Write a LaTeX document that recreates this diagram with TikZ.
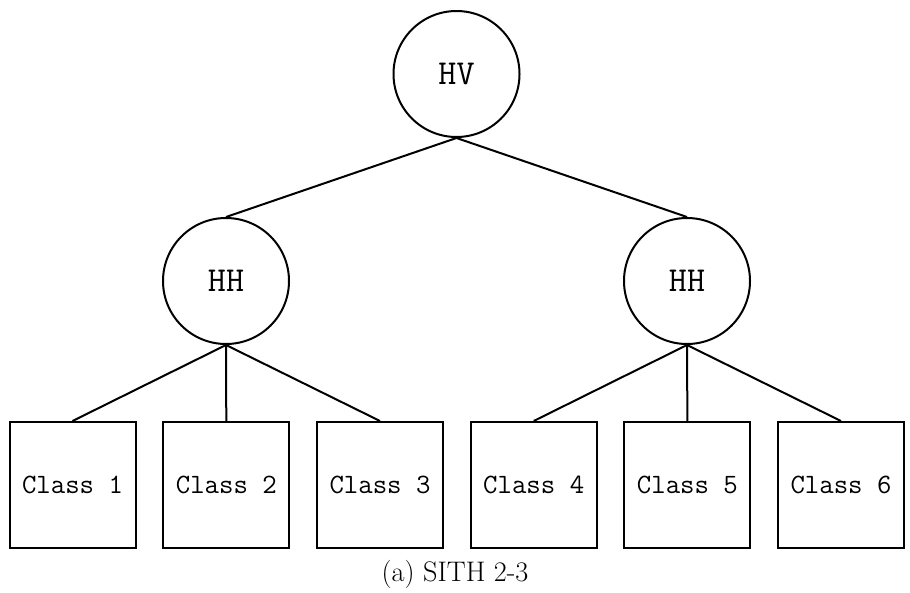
\documentclass[tikz,border=0pt]{standalone}
\usepackage{fontspec}
\begin{document}
\begin{tikzpicture}[x=1pt,y=-1pt,
  line width=2pt,
  hnode/.style={draw, circle, minimum size=126pt, inner sep=0pt, font=\ttfamily\fontsize{35}{40}\selectfont},
  cbox/.style={draw, rectangle, minimum width=126pt, minimum height=126pt, inner sep=0pt, font=\ttfamily\fontsize{28}{32}\selectfont},
  edge/.style={line width=2pt}]
\useasboundingbox (0,0) rectangle (910,592);
\node[hnode] (hv) at (456.5,74) {HV};
\node[hnode] (hl) at (226,281) {HH};
\node[hnode] (hr) at (687,281) {HH};
\node[cbox] (c1) at (72.5,485) {Class 1};
\node[cbox] (c2) at (226.3,485) {Class 2};
\node[cbox] (c3) at (380,485) {Class 3};
\node[cbox] (c4) at (533.7,485) {Class 4};
\node[cbox] (c5) at (687.4,485) {Class 5};
\node[cbox] (c6) at (841,485) {Class 6};
\draw[edge] (hv.south) -- (hl.north);
\draw[edge] (hv.south) -- (hr.north);
\draw[edge] (hl.south) -- (c1.north);
\draw[edge] (hl.south) -- (c2.north);
\draw[edge] (hl.south) -- (c3.north);
\draw[edge] (hr.south) -- (c4.north);
\draw[edge] (hr.south) -- (c5.north);
\draw[edge] (hr.south) -- (c6.north);
\node[font=\fontsize{28.3}{32}\selectfont, inner sep=0pt] (cap) at (455,574) {(a) SITH 2-3};
\end{tikzpicture}
\end{document}
